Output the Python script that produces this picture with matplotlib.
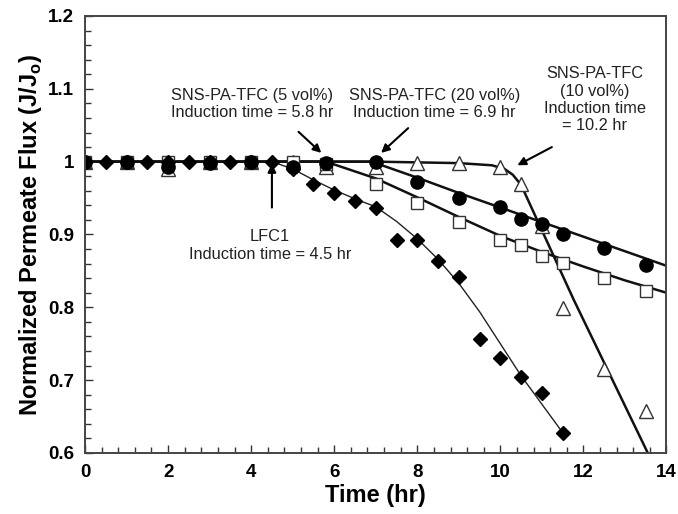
import numpy as np
import matplotlib
matplotlib.use('Agg')
import matplotlib.pyplot as plt
from matplotlib.ticker import MultipleLocator, FuncFormatter

plt.rcParams['font.family'] = ['Liberation Sans', 'DejaVu Sans']

# measured points
t_lfc = [0, 0.5, 1, 1.5, 2, 2.5, 3, 3.5, 4, 4.5, 5, 5.5, 6, 6.5, 7, 7.5, 8, 8.5,
         9, 9.5, 10, 10.5, 11, 11.5]
y_lfc = [1, 1, 1, 1, 1, 1, 1, 1, 1, 1, 0.99, 0.969, 0.957, 0.946, 0.936, 0.893,
         0.893, 0.864, 0.842, 0.756, 0.730, 0.705, 0.682, 0.628]

t_sns = [0, 1, 2, 3, 4, 5, 5.8, 7, 8, 9, 10, 10.5, 11, 11.5, 12.5, 13.5]
y_5vol = [1, 1, 1, 1, 1, 1, 0.997, 0.970, 0.943, 0.917, 0.892, 0.886, 0.871,
          0.861, 0.840, 0.822]
y_20vol = [1, 1, 0.992, 0.998, 1, 0.993, 0.998, 1.0, 0.972, 0.950, 0.938, 0.921,
           0.915, 0.900, 0.881, 0.858]
y_10vol = [1, 1, 0.99, 1, 1, 1, 0.993, 0.993, 0.998, 0.998, 0.993, 0.970, 0.912,
           0.799, 0.715, 0.657]

# fitted trend lines
fit_lfc_t = [0, 4.5, 5, 5.5, 6, 6.5, 7, 7.5, 8, 8.5, 9, 9.5, 10, 10.5, 11, 11.5]
fit_lfc_y = [1, 1, 0.99, 0.975, 0.961, 0.949, 0.938, 0.918, 0.894, 0.866, 0.833,
             0.794, 0.750, 0.706, 0.667, 0.628]
fit_5_t = [0, 5.8, 7, 8, 9, 10, 11, 12, 13, 14]
fit_5_y = [1, 1, 0.977, 0.951, 0.924, 0.898, 0.876, 0.856, 0.837, 0.820]
fit_20_t = [0, 6.9, 8, 9, 10, 11, 12, 13, 14]
fit_20_y = [1, 1, 0.978, 0.957, 0.937, 0.917, 0.897, 0.877, 0.857]
fit_10_t = [0, 7, 9, 9.8, 10.1, 10.3, 10.5, 11.77, 13.55]
fit_10_y = [1, 1, 0.998, 0.995, 0.99, 0.982, 0.968, 0.81, 0.6]

fig, ax = plt.subplots(figsize=(6.78, 5.14), dpi=100)
fig.subplots_adjust(left=0.1254, right=0.983, top=0.9689, bottom=0.1187)

ax.plot(fit_lfc_t, fit_lfc_y, color='#222222', lw=1.0)
ax.plot(fit_5_t, fit_5_y, color='#111111', lw=1.8)
ax.plot(fit_20_t, fit_20_y, color='#111111', lw=1.8)
ax.plot(fit_10_t, fit_10_y, color='#111111', lw=1.8)

ax.plot(t_sns, y_10vol, '^', ms=10, mfc='white', mec='#333333', mew=1.0, ls='none')
ax.plot(t_sns, y_5vol, 's', ms=9, mfc='white', mec='#333333', mew=1.0, ls='none')
ax.plot(t_sns, y_20vol, 'o', ms=9.5, color='black', ls='none')
ax.plot(t_lfc, y_lfc, 'D', ms=7.5, color='black', ls='none')

ax.set_xlim(0, 14)
ax.set_ylim(0.6, 1.2)
ax.xaxis.set_major_locator(MultipleLocator(2))
ax.xaxis.set_minor_locator(MultipleLocator(0.4))
ax.yaxis.set_major_locator(MultipleLocator(0.1))
ax.yaxis.set_minor_locator(MultipleLocator(0.02))
ax.yaxis.set_major_formatter(FuncFormatter(lambda v, p: '%g' % round(v, 2)))
ax.tick_params(which='both', direction='in', top=False, right=False, width=1.0,
               color='#333333')
ax.tick_params(which='major', length=6, labelsize=13.5, pad=8)
ax.tick_params(which='minor', length=4)
for lab in ax.get_xticklabels() + ax.get_yticklabels():
    lab.set_fontweight('bold')
for s in ax.spines.values():
    s.set_color('#444444')
    s.set_linewidth(1.4)

ax.set_xlabel('Time (hr)', fontsize=17, fontweight='bold', labelpad=2)
ax.set_ylabel('Normalized Permeate Flux (J/J$_\\mathregular{o}$)', fontsize=17,
              fontweight='bold', labelpad=3)

arrow = dict(arrowstyle='-|>', color='black', lw=1.5, mutation_scale=12,
             shrinkA=0, shrinkB=0)
txt = dict(fontsize=11.8, color='#222222', ha='center', va='center',
           linespacing=1.2)
ax.annotate('', xy=(4.5, 0.997), xytext=(4.5, 0.937), arrowprops=arrow)
ax.text(4.45, 0.885, 'LFC1\nInduction time = 4.5 hr', **txt)
ax.annotate('', xy=(5.69, 1.012), xytext=(5.14, 1.041), arrowprops=arrow)
ax.text(4.02, 1.079, 'SNS-PA-TFC (5 vol%)\nInduction time = 5.8 hr', **txt)
ax.annotate('', xy=(7.13, 1.012), xytext=(7.78, 1.046), arrowprops=arrow)
ax.text(8.42, 1.079, 'SNS-PA-TFC (20 vol%)\nInduction time = 6.9 hr', **txt)
ax.annotate('', xy=(10.41, 0.995), xytext=(11.24, 1.02), arrowprops=arrow)
ax.text(12.27, 1.085, 'SNS-PA-TFC\n(10 vol%)\nInduction time\n= 10.2 hr', **txt)

fig.savefig('out.png', dpi=100)
